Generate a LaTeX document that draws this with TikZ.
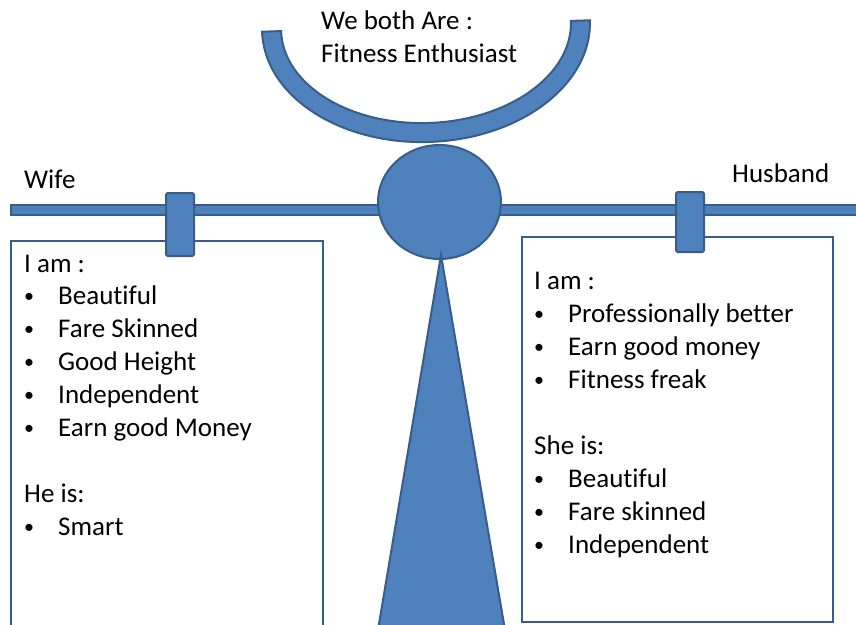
\documentclass[tikz,border=0pt]{standalone}
\usepackage{fontspec}
\setmainfont{Carlito}[Ligatures={NoCommon}]
\definecolor{fillblue}{HTML}{4F81BD}
\definecolor{edgeblue}{HTML}{385D8A}
\newcommand{\mybul}{{\fontsize{20}{20}\selectfont\raisebox{1.5pt}{•}}}
\begin{document}
\begin{tikzpicture}[x=1pt,y=-1pt,
  shapebox/.style={fill=fillblue,draw=edgeblue,line width=2pt},
  boxline/.style={draw=edgeblue,line width=1.8pt},
  txt/.style={inner sep=0pt,anchor=base west,font=\fontsize{27}{33}\selectfont}]
\useasboundingbox (0,0) rectangle (856,624);
\clip (0,0) rectangle (856,624);
% beam
\draw[shapebox,line width=1.6pt] (11,205) rectangle (870,215);
% text boxes
\draw[boxline] (11,640) -- (11,241) -- (323,241) -- (323,640);
\draw[boxline] (522,237) rectangle (833,622);
% clips
\draw[shapebox,rounded corners=1.5pt] (166,193) rectangle (194,256);
\draw[shapebox,rounded corners=1.5pt] (676,192) rectangle (704,252);
% arc
\begin{scope}[rotate around={2:(426,26)}]
\draw[shapebox] (262,26) arc[start angle=180,end angle=0,x radius=164,y radius=116]
  -- (571,26) arc[start angle=0,end angle=180,x radius=145,y radius=97] -- cycle;
\end{scope}
% head
\draw[shapebox] (439.5,202) ellipse[x radius=61.5,y radius=57];
% body
\draw[shapebox] (441,255) -- (376.3,640) -- (506.7,640) -- cycle;
% labels
\node[txt] (wife) at (24,188) {Wife};
\node[txt] (husband) at (732,182) {Husband};
\node[txt] (both1) at (321,29) {We both Are :};
\node[txt] (both2) at (321,62) {Fitness Enthusiast};
% left box
\node[txt] (lhead) at (24,272) {I am :};
\foreach \t [count=\i] in {Beautiful,Fare Skinned,Good Height,Independent,Earn good Money}{
  \node[txt] (lb\i) at (24,{271+33*\i}) {\mybul};
  \node[txt] (li\i) at (58,{271+33*\i}) {\t};
}
\node[txt] (lhe) at (24,502) {He is:};
\node[txt] (lsb) at (24,535) {\mybul};
\node[txt] (lsi) at (58,535) {Smart};
% right box
\node[txt] (rhead) at (534,289) {I am :};
\foreach \t [count=\i] in {Professionally better,Earn good money,Fitness freak}{
  \node[txt] (rb\i) at (534,{289+33*\i}) {\mybul};
  \node[txt] (ri\i) at (568,{289+33*\i}) {\t};
}
\node[txt] (rshe) at (534,454) {She is:};
\foreach \t [count=\i] in {Beautiful,Fare skinned,Independent}{
  \node[txt] (sb\i) at (534,{454+33*\i}) {\mybul};
  \node[txt] (si\i) at (568,{454+33*\i}) {\t};
}
\end{tikzpicture}
\end{document}
